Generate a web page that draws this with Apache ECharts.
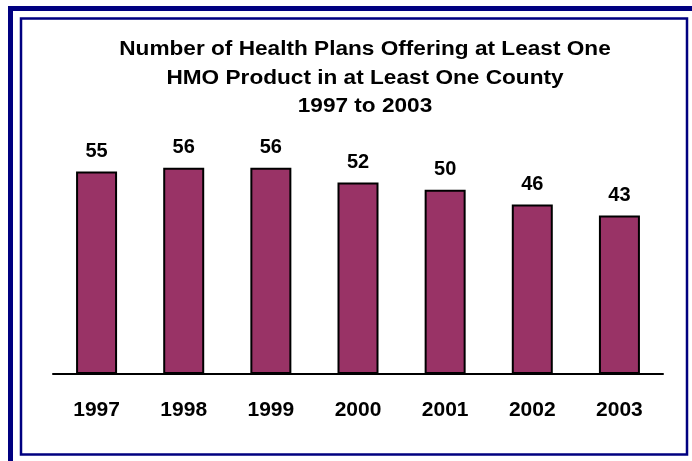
<!DOCTYPE html>
<html>
<head>
<meta charset="utf-8">
<script src="https://cdn.jsdelivr.net/npm/echarts@6/dist/echarts.min.js"></script>
<style>
html,body{margin:0;padding:0;background:#fff;}
#chart{width:692px;height:461px;}
</style>
</head>
<body>
<div id="chart"></div>
<script>
var categories = ['1997','1998','1999','2000','2001','2002','2003'];
var plans = [55, 56, 56, 52, 50, 46, 43];
var titleLines = ['Number of Health Plans Offering at Least One','HMO Product in at Least One County','1997 to 2003'];

var chart = echarts.init(document.getElementById('chart'), null, {renderer:'canvas'});
var font = '"Liberation Sans", Arial, sans-serif';
var titleGraphics = titleLines.map(function (t, i) {
  return {
    type: 'text', x: 365, y: 50 + i * 28.5, scaleX: 1.16, scaleY: 1,
    style: {text: t, fontFamily: font, fontWeight: 'bold', fontSize: 19.5, fill: '#000',
            textAlign: 'center', textVerticalAlign: 'middle'}
  };
});
chart.setOption({
  animation: false,
  backgroundColor: '#ffffff',
  graphic: [
    {type:'rect', shape:{x:8, y:6, width:684, height:5}, style:{fill:'#000080'}},
    {type:'rect', shape:{x:8, y:6, width:5, height:455}, style:{fill:'#000080'}},
    {type:'rect', shape:{x:21, y:18.5, width:666, height:436}, style:{fill:'none', stroke:'#000080', lineWidth:2.5}}
  ].concat(titleGraphics),
  grid: {left: 53, right: 29, top: 153, bottom: 87, containLabel: false},
  xAxis: {
    type: 'category',
    data: categories,
    axisLine: {show: true, lineStyle: {color: '#000', width: 2}},
    axisTick: {show: false},
    axisLabel: {fontFamily: font, fontWeight: 'bold', fontSize: 21, color: '#000', margin: 26}
  },
  yAxis: {
    type: 'value', min: 0, max: 60,
    show: false,
    splitLine: {show: false}
  },
  series: [{
    type: 'bar',
    data: plans,
    barWidth: 41,
    itemStyle: {color: '#993366', borderColor: '#000', borderWidth: 2},
    label: {show: true, position: 'top', distance: 10, fontFamily: font, fontWeight: 'bold', fontSize: 20, color: '#000'}
  }]
});
</script>
</body>
</html>
